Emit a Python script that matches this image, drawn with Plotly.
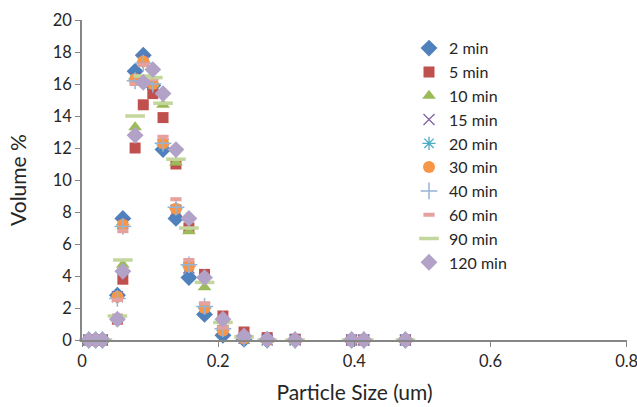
import plotly.graph_objects as go

# Particle size grid (um)
sizes = [0.01, 0.02, 0.03, 0.052, 0.06, 0.078, 0.09, 0.104, 0.119, 0.138,
         0.157, 0.18, 0.207, 0.238, 0.272, 0.313, 0.396, 0.414, 0.475]

min2 = [0, 0, 0, 2.8, 7.6, 16.8, 17.8, 15.9, 11.9, 7.6, 3.9, 1.6, 0.3, 0.05, 0, 0, 0, 0, 0]
min5 = [0, 0, 0, 1.3, 3.8, 12.0, 14.7, 15.4, 13.9, 11.0, 7.0, 4.1, 1.5, 0.5, 0.15, 0.05, 0, 0, 0]
min10 = [0, 0, 0, 1.4, 4.7, 13.3, 16.2, 16.0, 14.7, 11.1, 6.8, 3.3, 0.9, 0.15, 0, 0, 0, 0, 0]
min15 = [0, 0, 0, 2.7, 7.3, 16.4, 17.5, 16.0, 12.2, 8.1, 4.5, 2.0, 0.6, 0.1, 0, 0, 0, 0, 0]
min20 = [0, 0, 0, 2.7, 7.2, 16.3, 17.4, 16.0, 12.2, 8.2, 4.6, 2.0, 0.6, 0.1, 0, 0, 0, 0, 0]
min30 = [0, 0, 0, 2.7, 7.2, 16.3, 17.4, 16.0, 12.3, 8.2, 4.6, 2.0, 0.6, 0.1, 0, 0, 0, 0, 0]
min40 = [0, 0, 0, 2.6, 7.1, 16.2, 17.3, 16.0, 12.3, 8.3, 4.7, 2.1, 0.7, 0.1, 0, 0, 0, 0, 0]
min60 = [0, 0, 0, 2.5, 6.8, 16.0, 17.2, 16.3, 12.7, 8.8, 5.0, 2.3, 0.8, 0.15, 0, 0, 0, 0, 0]
min90 = [0, 0, 0, 1.5, 5.0, 14.0, 16.5, 16.4, 14.8, 11.3, 7.0, 3.6, 1.1, 0.2, 0, 0, 0, 0, 0]
min120 = [0, 0, 0, 1.3, 4.3, 12.8, 16.1, 16.9, 15.4, 11.9, 7.6, 3.9, 1.3, 0.25, 0.05, 0, 0, 0, 0]

series_names = ["2 min", "5 min", "10 min", "15 min", "20 min", "30 min",
                "40 min", "60 min", "90 min", "120 min"]
series_values = [min2, min5, min10, min15, min20, min30, min40, min60, min90, min120]

styles = [
    dict(symbol="diamond", color="#4F81BD", size=13, line=dict(width=0)),
    dict(symbol="square", color="#C0504D", size=11, line=dict(width=0)),
    dict(symbol="triangle-up", color="#9BBB59", size=12, line=dict(width=0)),
    dict(symbol="x-thin-open", color="#8064A2", size=11, line=dict(width=1.3, color="#8064A2")),
    dict(symbol="asterisk-open", color="#4BACC6", size=11, line=dict(width=1.3, color="#4BACC6")),
    dict(symbol="circle", color="#F79646", size=12, line=dict(width=0)),
    dict(symbol="cross-thin-open", color="#95B3D7", size=12, line=dict(width=1.5, color="#95B3D7")),
    dict(symbol="line-ew-open", color="#E6A09E", size=8, line=dict(width=4, color="#E6A09E")),
    dict(symbol="line-ew-open", color="#C3D69B", size=14, line=dict(width=3.5, color="#C3D69B")),
    dict(symbol="diamond", color="#B3A2C7", size=13, line=dict(width=0)),
]

fig = go.Figure()
for i, (name, vals, st) in enumerate(zip(series_names, series_values, styles)):
    fig.add_trace(go.Scatter(
        x=sizes, y=vals, mode="markers", name=name,
        marker=st, cliponaxis=False, legendgroup=f"g{i}",
    ))

axis_color = "#868686"
font_family = "Lato, 'Open Sans', sans-serif"

fig.update_layout(
    width=637, height=407,
    margin=dict(l=82, r=10, t=20, b=67),
    paper_bgcolor="white", plot_bgcolor="white",
    font=dict(family=font_family, size=16, color="#262626"),
    showlegend=True,
    legend=dict(
        x=0.6, y=0.965, xanchor="left", yanchor="top",
        font=dict(size=16, color="#262626"),
        bgcolor="rgba(0,0,0,0)", tracegroupgap=0,
        traceorder="grouped", itemwidth=30,
    ),
    xaxis=dict(
        range=[0, 0.8005], tickvals=[0, 0.2, 0.4, 0.6, 0.8],
        ticktext=["0", "0.2", "0.4", "0.6", "0.8"],
        showgrid=False, zeroline=False, automargin=False,
        showline=True, linecolor=axis_color, linewidth=1.5,
        ticks="outside", ticklen=5, tickcolor=axis_color,
        tickfont=dict(size=16.5), ticklabeloverflow="allow",
        title=dict(text="Particle Size (um)", font=dict(size=21), standoff=16),
    ),
    yaxis=dict(
        range=[0, 20], dtick=2, tick0=0,
        showgrid=False, zeroline=False, automargin=False,
        showline=True, linecolor=axis_color, linewidth=1.5,
        ticks="outside", ticklen=5, tickcolor=axis_color,
        tickfont=dict(size=16.5),
        title=dict(text="Volume %", font=dict(size=21), standoff=20),
    ),
)

fig.write_html("out.html")
